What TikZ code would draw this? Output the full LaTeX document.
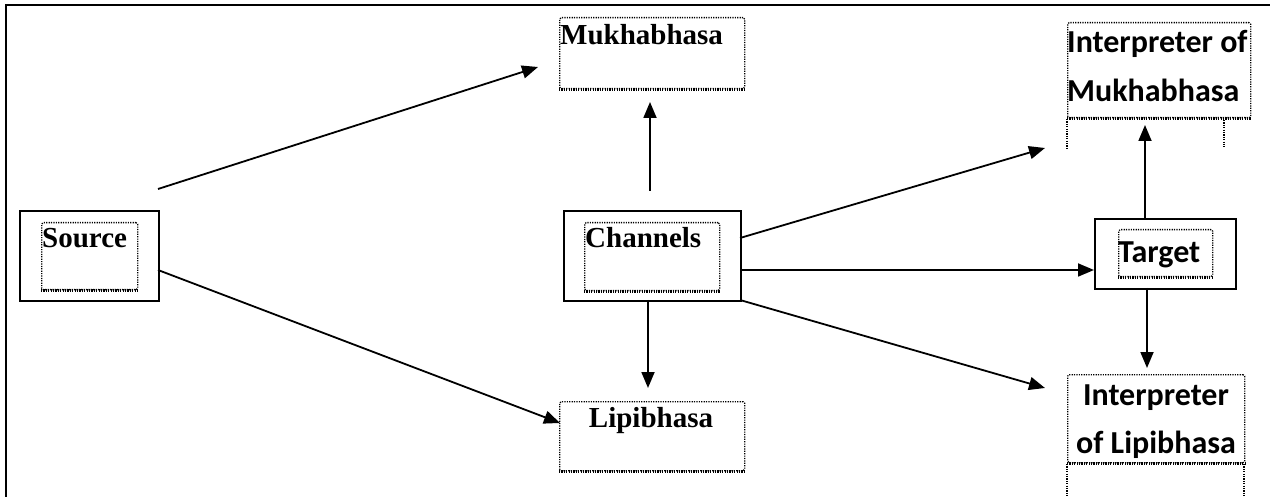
\documentclass[tikz,border=0pt]{standalone}
\usepackage{fontspec}
\setmainfont{Liberation Serif}
\newfontfamily\calfont{Carlito}
\usetikzlibrary{arrows.meta}
\begin{document}
\begin{tikzpicture}[x=1pt,y=-1pt,
 solidbox/.style={draw,line width=1.6pt,inner sep=0pt,anchor=north west},
 dotbox/.style={draw,dash pattern=on 1.2pt off 1.2pt,line width=1.3pt,rounded corners=1.5pt,inner sep=0pt,anchor=north west},
 dotline/.style={dash pattern=on 1.2pt off 1.2pt,line width=1.3pt},
 thickdot/.style={dash pattern=on 1.2pt off 1.2pt,line width=2.8pt},
 arr/.style={line width=1.8pt,-{Triangle[length=16pt,width=13pt]}},
 serif/.style={font=\fontsize{29}{29}\selectfont\bfseries,inner sep=0pt},
 sans/.style={font=\fontsize{32}{32}\selectfont\calfont\bfseries,inner sep=0pt},
]
\useasboundingbox (0,0) rectangle (1270,497);
\draw[line width=2pt] (6,497) -- (6,5) -- (1270,5);

% Source
\node[solidbox,minimum width=139pt,minimum height=90pt] (src) at (19,210) {};
\node[dotbox,minimum width=96pt,minimum height=67pt] (srcin) at (41,222) {};
\draw[thickdot] (srcin.south west) -- (srcin.south east);
\node[serif,anchor=base west] (srct) at (42,248) {Source};

% Mukhabhasa
\node[dotbox,minimum width=185pt,minimum height=71pt] (mukh) at (559,17) {};
\draw[thickdot] (mukh.south west) -- (mukh.south east);
\node[serif,anchor=base west] (mukht) at (560,45) {Mukhabhasa};

% Channels
\node[solidbox,minimum width=177pt,minimum height=90pt] (chan) at (563,210) {};
\node[dotbox,minimum width=135pt,minimum height=68pt] (chanin) at (584,222) {};
\draw[thickdot] (chanin.south west) -- (chanin.south east);
\node[serif,anchor=base west] (chant) at (585,248) {Channels};

% Lipibhasa
\node[dotbox,minimum width=185pt,minimum height=69pt] (lipi) at (559,401) {};
\draw[thickdot] (lipi.south west) -- (lipi.south east);
\node[serif,anchor=base] (lipit) at (651,427) {Lipibhasa};

% Interpreter of Mukhabhasa
\node[dotbox,minimum width=183pt,minimum height=95pt] (imuk) at (1067,22) {};
\draw[thickdot] (imuk.south west) -- (imuk.south east);
\node[sans,anchor=base west] (imukt1) at (1067,53) {Interpreter of};
\node[sans,anchor=base west] (imukt2) at (1067,102) {Mukhabhasa};
\coordinate (imA) at (1067,119);
\coordinate (imB) at (1067,148);
\coordinate (imC) at (1224,120);
\coordinate (imD) at (1224,147);
\draw[dotline] (imA) -- (imB);
\draw[dotline] (imC) -- (imD);

% Target
\node[solidbox,minimum width=141pt,minimum height=70pt] (tgt) at (1094,218) {};
\node[dotbox,minimum width=94pt,minimum height=47pt] (tgtin) at (1118,229) {};
\draw[thickdot] (tgtin.south west) -- (tgtin.south east);
\node[sans,anchor=base west] (tgtt) at (1118,263) {Target};

% Interpreter of Lipibhasa
\node[dotbox,minimum width=177pt,minimum height=88pt] (ilip) at (1067,374) {};
\draw[thickdot] (ilip.south west) -- (ilip.south east);
\node[sans,anchor=base] (ilipt1) at (1156,405) {Interpreter};
\node[sans,anchor=base] (ilipt2) at (1156,453) {of Lipibhasa};
\coordinate (ilA) at (1067,464);
\coordinate (ilB) at (1067,497);
\coordinate (ilC) at (1244,464);
\coordinate (ilD) at (1244,497);
\draw[dotline] (ilA) -- (ilB);
\draw[dotline] (ilC) -- (ilD);

% arrow endpoints
\coordinate (s1) at (158,189);
\coordinate (s1e) at (538,67);
\coordinate (s2) at (158,270);
\coordinate (s2e) at (560,423);
\coordinate (c1) at (650,191);
\coordinate (c1e) at (650,102);
\coordinate (c2) at (648,300);
\coordinate (c2e) at (648,388);
\coordinate (c3) at (740,238);
\coordinate (c3e) at (1045,148);
\coordinate (c4) at (740,270);
\coordinate (c4e) at (1094,270);
\coordinate (c5) at (740,300);
\coordinate (c5e) at (1045,388);
\coordinate (t1) at (1145,218);
\coordinate (t1e) at (1145,125);
\coordinate (t2) at (1147,288);
\coordinate (t2e) at (1147,368);

\draw[arr] (s1) -- (s1e);
\draw[arr] (s2) -- (s2e);
\draw[arr] (c1) -- (c1e);
\draw[arr] (c2) -- (c2e);
\draw[arr] (c3) -- (c3e);
\draw[arr] (c4) -- (c4e);
\draw[arr] (c5) -- (c5e);
\draw[arr] (t1) -- (t1e);
\draw[arr] (t2) -- (t2e);
\end{tikzpicture}
\end{document}
